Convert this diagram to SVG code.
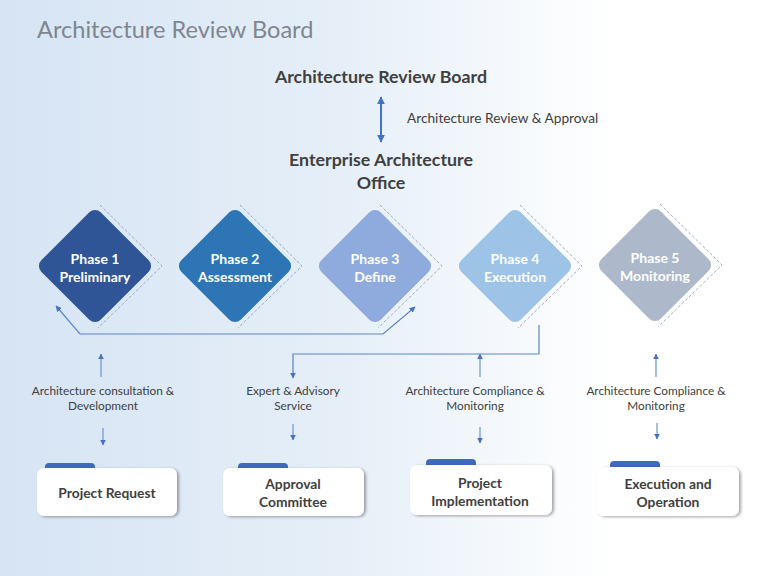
<svg xmlns="http://www.w3.org/2000/svg" width="768" height="576" viewBox="0 0 768 576">
<defs>
<linearGradient id="bg" x1="0" y1="0" x2="1" y2="0">
<stop offset="0" stop-color="#D6E4F4"/>
<stop offset="0.45" stop-color="#E6EFF8"/>
<stop offset="0.8" stop-color="#FFFFFF"/>
<stop offset="1" stop-color="#FFFFFF"/>
</linearGradient>
<marker id="ah" viewBox="0 0 10 10" refX="9" refY="5" markerWidth="6" markerHeight="6" orient="auto-start-reverse" markerUnits="userSpaceOnUse">
<path d="M0,0 L10,5 L0,10 z" fill="#4472C4"/>
</marker>
<marker id="ahb" viewBox="0 0 10 10" refX="9" refY="5" markerWidth="8" markerHeight="8" orient="auto-start-reverse" markerUnits="userSpaceOnUse">
<path d="M0,0 L10,5 L0,10 z" fill="#4472C4"/>
</marker>
<filter id="sh" x="-10%" y="-20%" width="125%" height="150%">
<feDropShadow dx="2" dy="1" stdDeviation="1.5" flood-color="#000" flood-opacity="0.35"/>
</filter>
</defs>
<style>
.t{font-family:Lato,"Liberation Sans",sans-serif;}
.h{font-family:Lato,"Liberation Sans",sans-serif;font-weight:bold;font-size:17.8px;fill:#404040;text-anchor:middle;}
.ph{font-family:Lato,"Liberation Sans",sans-serif;font-weight:bold;font-size:14px;fill:#FFFFFF;text-anchor:middle;}
.lb{font-family:Lato,"Liberation Sans",sans-serif;font-size:11.8px;fill:#404040;text-anchor:middle;}
.bx{font-family:Lato,"Liberation Sans",sans-serif;font-weight:bold;font-size:13.8px;fill:#404040;text-anchor:middle;}
.dash{fill:none;stroke:#8EA2C2;stroke-width:0.9;stroke-dasharray:3 2;}
.con{fill:none;stroke:#5A85CC;stroke-width:1.2;}
.sa{fill:none;stroke:#6F93D0;stroke-width:1.2;}
.card{fill:#FFFFFF;filter:url(#sh);}
.tab{fill:#3E6BBF;}
</style>
<rect width="768" height="576" fill="url(#bg)"/>
<text class="t" x="37" y="38" font-size="23.6" fill="#7F868E">Architecture Review Board</text>

<g id="arb"><text class="h" x="381" y="83">Architecture Review Board</text></g>
<g id="eao"><text class="h" x="381" y="166">Enterprise Architecture</text><text class="h" x="381" y="189">Office</text></g>

<g id="phase1">
<rect x="-42" y="-42" width="84" height="84" rx="8" transform="translate(95,266) rotate(45)" fill="#2F5597"/>
<polyline class="dash" points="100,205 162,266 98,328"/>
<text class="ph" x="95" y="264">Phase 1</text><text class="ph" x="95" y="282">Preliminary</text>
</g>
<g id="phase2">
<rect x="-42" y="-42" width="84" height="84" rx="8" transform="translate(235,266) rotate(45)" fill="#2E75B6"/>
<polyline class="dash" points="240,205 302,266 238,328"/>
<text class="ph" x="235" y="264">Phase 2</text><text class="ph" x="235" y="282">Assessment</text>
</g>
<g id="phase3">
<rect x="-42" y="-42" width="84" height="84" rx="8" transform="translate(375,266) rotate(45)" fill="#8FAADC"/>
<polyline class="dash" points="380,205 442,266 378,328"/>
<text class="ph" x="375" y="264">Phase 3</text><text class="ph" x="375" y="282">Define</text>
</g>
<g id="phase4">
<rect x="-42" y="-42" width="84" height="84" rx="8" transform="translate(515,266) rotate(45)" fill="#9DC3E6"/>
<polyline class="dash" points="520,205 582,266 518,328"/>
<text class="ph" x="515" y="264">Phase 4</text><text class="ph" x="515" y="282">Execution</text>
</g>
<g id="phase5">
<rect x="-42" y="-42" width="84" height="84" rx="8" transform="translate(655,265) rotate(45)" fill="#ADB9CA"/>
<polyline class="dash" points="660,204 722,265 658,327"/>
<text class="ph" x="655" y="263">Phase 5</text><text class="ph" x="655" y="281">Monitoring</text>
</g>

<g id="box1">
<rect class="tab" x="45" y="463" width="50" height="12" rx="4"/>
<rect class="card" x="37" y="468" width="140" height="48" rx="7"/>
<text class="bx" x="107" y="498">Project Request</text>
</g>
<g id="box2">
<rect class="tab" x="238" y="463" width="50" height="12" rx="4"/>
<rect class="card" x="223" y="468" width="141" height="48" rx="7"/>
<text class="bx" x="293" y="489">Approval</text><text class="bx" x="293" y="507">Committee</text>
</g>
<g id="box3">
<rect class="tab" x="426" y="459" width="50" height="12" rx="4"/>
<rect class="card" x="410" y="465" width="142" height="50" rx="7"/>
<text class="bx" x="480" y="488">Project</text><text class="bx" x="480" y="506">Implementation</text>
</g>
<g id="box4">
<rect class="tab" x="610" y="461" width="50" height="12" rx="4"/>
<rect class="card" x="597" y="467" width="142" height="49" rx="7"/>
<text class="bx" x="668" y="489">Execution and</text><text class="bx" x="668" y="507">Operation</text>
</g>

<g id="labels">
<text class="t" x="407" y="123" font-size="13.7" fill="#404040">Architecture Review &amp; Approval</text>
<text class="lb" x="103" y="395">Architecture consultation &amp;</text><text class="lb" x="103" y="410">Development</text>
<text class="lb" x="293" y="395">Expert &amp; Advisory</text><text class="lb" x="293" y="410">Service</text>
<text class="lb" x="475" y="395">Architecture Compliance &amp;</text><text class="lb" x="475" y="410">Monitoring</text>
<text class="lb" x="656" y="395">Architecture Compliance &amp;</text><text class="lb" x="656" y="410">Monitoring</text>
</g>

<g id="connectors">
<line x1="381" y1="97" x2="381" y2="142" stroke="#4472C4" stroke-width="2" marker-start="url(#ahb)" marker-end="url(#ahb)"/>
<polyline class="con" points="56,306 80,334 383,334 415,307" marker-start="url(#ah)" marker-end="url(#ah)"/>
<polyline class="con" points="539,325 539,354 293,354 293,378" marker-end="url(#ah)"/>
<line class="sa" x1="101" y1="377" x2="101" y2="354" marker-end="url(#ah)"/>
<line class="sa" x1="103" y1="428" x2="103" y2="445" marker-end="url(#ah)"/>
<line class="sa" x1="293" y1="424" x2="293" y2="440" marker-end="url(#ah)"/>
<line class="sa" x1="480" y1="377" x2="480" y2="354" marker-end="url(#ah)"/>
<line class="sa" x1="480" y1="427" x2="480" y2="443" marker-end="url(#ah)"/>
<line class="sa" x1="656" y1="377" x2="656" y2="354" marker-end="url(#ah)"/>
<line class="sa" x1="657" y1="423" x2="657" y2="439" marker-end="url(#ah)"/>
</g>
</svg>
